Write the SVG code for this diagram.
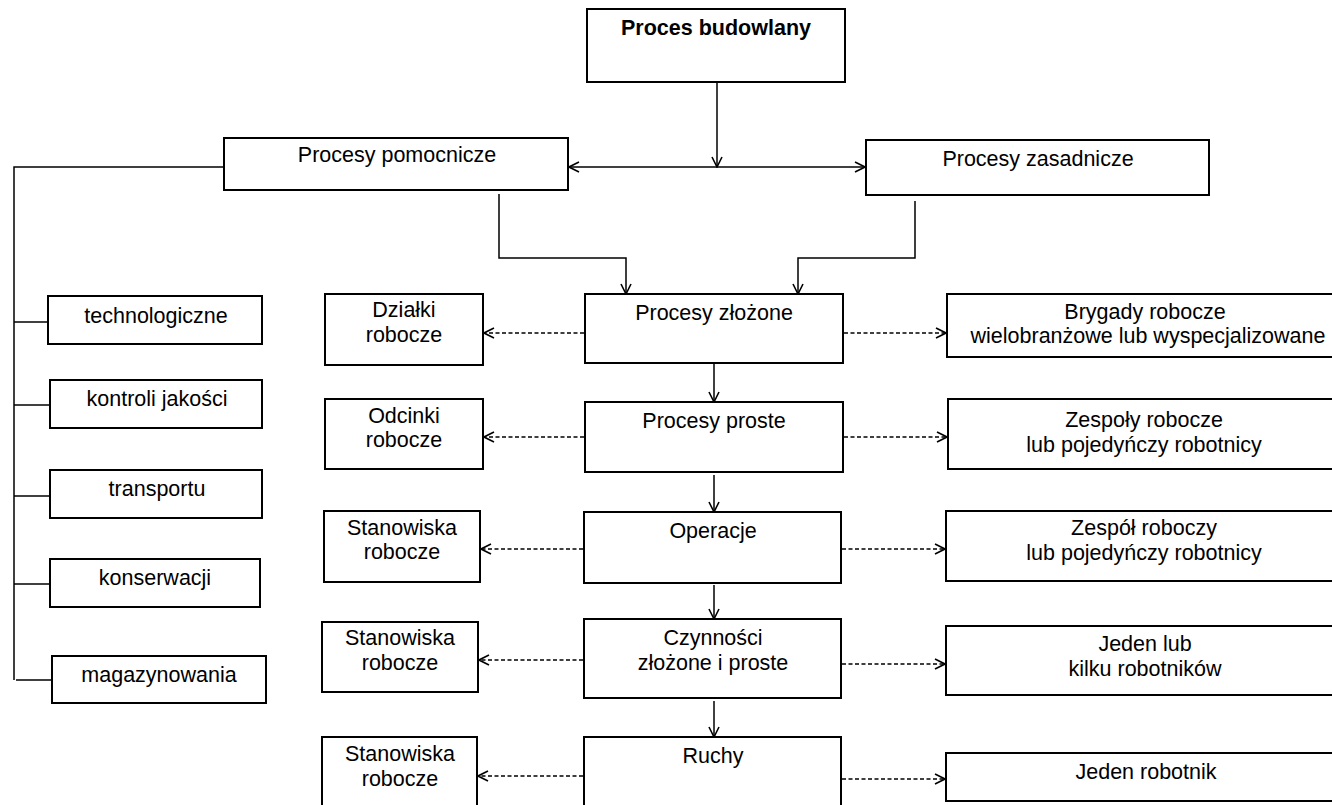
<svg xmlns="http://www.w3.org/2000/svg" width="1332" height="805" viewBox="0 0 1332 805">
  <style>
    .box { fill: #ffffff; stroke: #000000; stroke-width: 2; }
    .t { font-family: "Liberation Sans", Arial, sans-serif; font-size: 21.5px; fill: #000000; text-anchor: middle; }
    .b { font-weight: bold; }
    .ln { fill: none; stroke: #000000; stroke-width: 1.5; }
    .dash { fill: none; stroke: #000000; stroke-width: 1.6; stroke-dasharray: 4 2.5; }
  </style>
  <defs>
    <marker id="arr" viewBox="0 0 12 12" refX="11" refY="6" markerWidth="12" markerHeight="12" markerUnits="userSpaceOnUse" orient="auto-start-reverse">
      <path d="M1,1 L11,6 L1,11" fill="none" stroke="#000000" stroke-width="1.6"/>
    </marker>
  </defs>
  <rect width="1332" height="805" fill="#ffffff"/>

  <!-- connectors -->
  <g id="connectors">
    <!-- main hierarchy -->
    <path class="ln" d="M717,82 V167" marker-end="url(#arr)"/>
    <path class="ln" d="M569,167 H865" marker-start="url(#arr)" marker-end="url(#arr)"/>
    <path class="ln" d="M499,194 V258 H626 V294" marker-end="url(#arr)"/>
    <path class="ln" d="M915,201 V258 H798 V294" marker-end="url(#arr)"/>
    <path class="ln" d="M714,363 V402" marker-end="url(#arr)"/>
    <path class="ln" d="M714,475 V512" marker-end="url(#arr)"/>
    <path class="ln" d="M714,585 V619" marker-end="url(#arr)"/>
    <path class="ln" d="M714,701 V737" marker-end="url(#arr)"/>
    <!-- auxiliary processes bracket -->
    <path class="ln" d="M223,167 H14 V680"/>
    <path class="ln" d="M14,322 H48"/>
    <path class="ln" d="M14,405 H50"/>
    <path class="ln" d="M14,496 H50"/>
    <path class="ln" d="M14,584 H50"/>
    <path class="ln" d="M16,680 H52"/>
    <!-- dashed links: places of work (left) and crews (right) -->
    <path class="dash" d="M584,333 H484" marker-end="url(#arr)"/>
    <path class="dash" d="M844,333 H946" marker-end="url(#arr)"/>
    <path class="dash" d="M584,437 H484" marker-end="url(#arr)"/>
    <path class="dash" d="M844,437 H947" marker-end="url(#arr)"/>
    <path class="dash" d="M583,549 H481" marker-end="url(#arr)"/>
    <path class="dash" d="M842,549 H945" marker-end="url(#arr)"/>
    <path class="dash" d="M583,660 H479" marker-end="url(#arr)"/>
    <path class="dash" d="M842,664 H945" marker-end="url(#arr)"/>
    <path class="dash" d="M583,776 H478" marker-end="url(#arr)"/>
    <path class="dash" d="M842,779 H945" marker-end="url(#arr)"/>
  </g>

  <!-- top -->
  <g id="proces-budowlany">
    <rect class="box" x="587" y="9" width="258" height="73"/>
    <text class="t b" x="716" y="35">Proces budowlany</text>
  </g>
  <g id="procesy-pomocnicze">
    <rect class="box" x="224" y="138" width="344" height="52"/>
    <text class="t" x="397" y="162">Procesy pomocnicze</text>
  </g>
  <g id="procesy-zasadnicze">
    <rect class="box" x="866" y="140" width="343" height="55"/>
    <text class="t" x="1038" y="166">Procesy zasadnicze</text>
  </g>

  <!-- auxiliary process types -->
  <g id="technologiczne">
    <rect class="box" x="48" y="296" width="214" height="48"/>
    <text class="t" x="156" y="323">technologiczne</text>
  </g>
  <g id="kontroli-jakosci">
    <rect class="box" x="50" y="380" width="212" height="48"/>
    <text class="t" x="157" y="406">kontroli jakości</text>
  </g>
  <g id="transportu">
    <rect class="box" x="50" y="470" width="212" height="48"/>
    <text class="t" x="157" y="496">transportu</text>
  </g>
  <g id="konserwacji">
    <rect class="box" x="50" y="559" width="210" height="48"/>
    <text class="t" x="155" y="585">konserwacji</text>
  </g>
  <g id="magazynowania">
    <rect class="box" x="52" y="656" width="214" height="47"/>
    <text class="t" x="159" y="682">magazynowania</text>
  </g>

  <!-- central column -->
  <g id="procesy-zlozone">
    <rect class="box" x="585" y="294" width="258" height="69"/>
    <text class="t" x="714" y="320">Procesy złożone</text>
  </g>
  <g id="procesy-proste">
    <rect class="box" x="585" y="402" width="258" height="70"/>
    <text class="t" x="714" y="428">Procesy proste</text>
  </g>
  <g id="operacje">
    <rect class="box" x="584" y="512" width="257" height="71"/>
    <text class="t" x="713" y="538">Operacje</text>
  </g>
  <g id="czynnosci">
    <rect class="box" x="584" y="619" width="257" height="79"/>
    <text class="t" x="713" y="645">Czynności</text>
    <text class="t" x="713" y="670">złożone i proste</text>
  </g>
  <g id="ruchy">
    <rect class="box" x="584" y="737" width="257" height="80"/>
    <text class="t" x="713" y="763">Ruchy</text>
  </g>

  <!-- places of work -->
  <g id="dzialki-robocze">
    <rect class="box" x="325" y="294" width="158" height="71"/>
    <text class="t" x="404" y="317">Działki</text>
    <text class="t" x="404" y="342">robocze</text>
  </g>
  <g id="odcinki-robocze">
    <rect class="box" x="325" y="399" width="158" height="70"/>
    <text class="t" x="404" y="423">Odcinki</text>
    <text class="t" x="404" y="447">robocze</text>
  </g>
  <g id="stanowiska-1">
    <rect class="box" x="324" y="511" width="156" height="71"/>
    <text class="t" x="402" y="535">Stanowiska</text>
    <text class="t" x="402" y="559">robocze</text>
  </g>
  <g id="stanowiska-2">
    <rect class="box" x="322" y="622" width="156" height="70"/>
    <text class="t" x="400" y="645">Stanowiska</text>
    <text class="t" x="400" y="670">robocze</text>
  </g>
  <g id="stanowiska-3">
    <rect class="box" x="322" y="737" width="155" height="80"/>
    <text class="t" x="400" y="761">Stanowiska</text>
    <text class="t" x="400" y="786">robocze</text>
  </g>

  <!-- crews -->
  <g id="brygady">
    <rect class="box" x="947" y="294" width="400" height="63"/>
    <text class="t" x="1145" y="319">Brygady robocze</text>
    <text class="t" x="1148" y="343">wielobranżowe lub wyspecjalizowane</text>
  </g>
  <g id="zespoly">
    <rect class="box" x="948" y="399" width="400" height="70"/>
    <text class="t" x="1144" y="427">Zespoły robocze</text>
    <text class="t" x="1144" y="452">lub pojedyńczy robotnicy</text>
  </g>
  <g id="zespol">
    <rect class="box" x="946" y="511" width="400" height="70"/>
    <text class="t" x="1144" y="535">Zespół roboczy</text>
    <text class="t" x="1144" y="560">lub pojedyńczy robotnicy</text>
  </g>
  <g id="jeden-lub-kilku">
    <rect class="box" x="946" y="626" width="400" height="69"/>
    <text class="t" x="1145" y="651">Jeden lub</text>
    <text class="t" x="1145" y="676">kilku robotników</text>
  </g>
  <g id="jeden-robotnik">
    <rect class="box" x="946" y="753" width="400" height="48"/>
    <text class="t" x="1146" y="779">Jeden robotnik</text>
  </g>
</svg>
